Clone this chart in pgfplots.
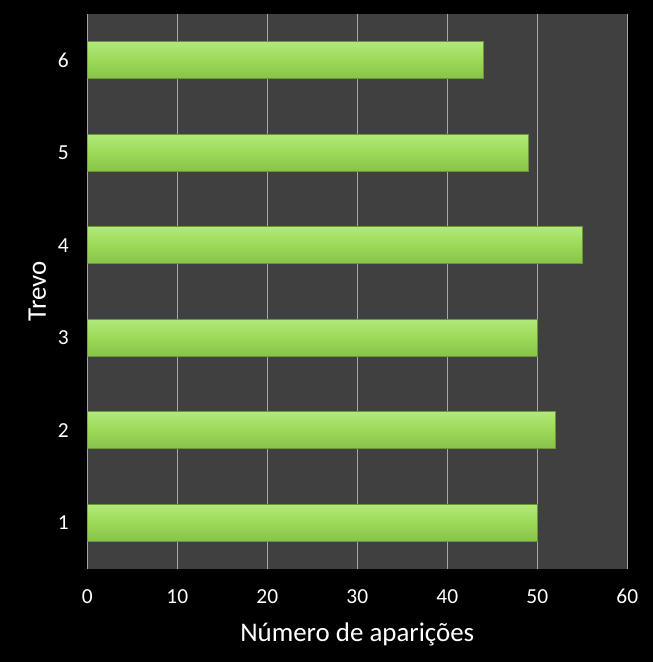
\documentclass[border=0pt]{standalone}
\usepackage{pgfplots}
\pgfplotsset{compat=1.18}
\usepackage{fontspec}
\setmainfont{Carlito}

\definecolor{plotbg}{HTML}{404040}
\definecolor{gridc}{HTML}{A6A6A6}
\definecolor{barmid}{HTML}{9BD957}
\definecolor{bartop}{HTML}{B2E97A}
\definecolor{barbot}{HTML}{88C24B}
\definecolor{baredge}{HTML}{6A9838}

\pgfplotsset{
  greenbar/.style={
    draw=baredge, line width=0.6bp, bar shift=0pt,
    top color=bartop, bottom color=barbot, middle color=barmid,
  },
}

\begin{document}
\begin{tikzpicture}
\fill[black] (-87.3bp,-93bp) rectangle (565.7bp,569bp);
\useasboundingbox (-87.3bp,-93bp) rectangle (565.7bp,569bp);
\begin{axis}[
    scale only axis,
    width=540bp, height=555bp,
    xbar,
    bar width=37bp,
    xmin=0, xmax=60,
    xtick={0,10,...,60},
    ymin=0.5, ymax=6.5,
    ytick={1,2,3,4,5,6},
    axis background/.style={fill=plotbg},
    axis line style={draw=none},
    xmajorgrids,
    major grid style={gridc, line width=0.8bp},
    major tick length=0pt,
    /pgf/number format/assume math mode=true,
    ticklabel style={white, font=\fontsize{21.5}{24}\selectfont},
    xticklabel style={yshift=-17bp},
    yticklabel style={xshift=-15bp},
    label style={white, font=\fontsize{27}{30}\selectfont},
    xlabel={Número de aparições},
    ylabel={Trevo},
    xlabel style={yshift=-12bp},
    ylabel style={yshift=5bp},
]
\addplot[greenbar] coordinates {(50,1)};
\addplot[greenbar] coordinates {(52,2)};
\addplot[greenbar] coordinates {(50,3)};
\addplot[greenbar] coordinates {(55,4)};
\addplot[greenbar] coordinates {(49,5)};
\addplot[greenbar] coordinates {(44,6)};
\end{axis}
\end{tikzpicture}
\end{document}
